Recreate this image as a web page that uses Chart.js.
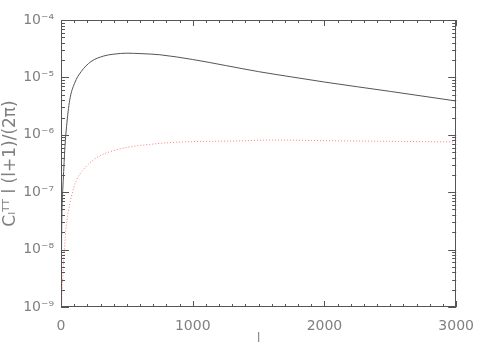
<!DOCTYPE html>
<html>
<head>
<meta charset="utf-8">
<script src="https://cdn.jsdelivr.net/npm/chart.js@4.4.1/dist/chart.umd.min.js"></script>
<style>
html,body{margin:0;padding:0;background:#fff;}
#wrap{width:485px;height:346px;position:relative;}
</style>
</head>
<body>
<div id="wrap"><canvas id="c" width="485" height="346"></canvas></div>
<script>
// multipole l values and C_l l(l+1)/(2pi) values
const solidL   = [2, 5, 10, 17, 30, 42, 66, 103, 153, 227, 325, 400, 500, 600, 750, 1000, 1250, 1500, 1750, 2000, 2500, 3000];
const solidVal = [2e-9, 2e-8, 7e-8, 1.6e-7, 6.2e-7, 1.38e-6, 4.0e-6, 7.9e-6, 1.26e-5, 1.88e-5, 2.36e-5, 2.54e-5, 2.64e-5, 2.6e-5, 2.48e-5, 2.05e-5, 1.61e-5, 1.26e-5, 1.02e-5, 8.3e-6, 5.7e-6, 3.88e-6];
const dottedL   = [2, 5, 12.6, 22, 37, 54, 79, 116, 165, 264, 412, 754, 1000, 1323, 1600, 2000, 2500, 3000];
const dottedVal = [8e-10, 1.2e-9, 3e-9, 7.5e-9, 2.2e-8, 4.3e-8, 8.4e-8, 1.6e-7, 2.4e-7, 3.9e-7, 5.4e-7, 7.1e-7, 7.6e-7, 7.8e-7, 8.1e-7, 7.9e-7, 7.7e-7, 7.5e-7];
const xTickVals = [0, 1000, 2000, 3000];
const yTickExps = [-9, -8, -7, -6, -5, -4];

const SUP = {'-':'\u207B','0':'\u2070','1':'\u00B9','2':'\u00B2','3':'\u00B3','4':'\u2074','5':'\u2075','6':'\u2076','7':'\u2077','8':'\u2078','9':'\u2079'};
function supStr(n){return String(n).split('').map(c=>SUP[c]||c).join('');}

const AXC = '#555555';
const TXC = '#808080';

const innerTicks = {
  id:'innerTicks',
  afterDatasetsDraw(chart){
    const ctx = chart.ctx, a = chart.chartArea;
    const xs = chart.scales.x, ys = chart.scales.y;
    ctx.save();
    ctx.strokeStyle = AXC;
    ctx.lineWidth = 1;
    ctx.strokeRect(Math.round(a.left)+0.5, Math.round(a.top)+0.5, Math.round(a.right-a.left)-1, Math.round(a.bottom-a.top)-1);
    ctx.beginPath();
    for(let v=0; v<=3000; v+=100){
      const px = Math.round(xs.getPixelForValue(v))+0.5;
      const len = (v % 1000 === 0) ? 6 : 3;
      ctx.moveTo(px, a.bottom); ctx.lineTo(px, a.bottom-len);
      ctx.moveTo(px, a.top); ctx.lineTo(px, a.top+len);
    }
    for(let e=-9; e<=-4; e++){
      for(let m=1; m<=9; m++){
        const v = m*Math.pow(10,e);
        if(v > 1.0001e-4) break;
        const py = Math.round(ys.getPixelForValue(v))+0.5;
        const len = (m===1) ? 8 : 4;
        ctx.moveTo(a.left, py); ctx.lineTo(a.left+len, py);
        ctx.moveTo(a.right, py); ctx.lineTo(a.right-len, py);
      }
    }
    ctx.stroke();
    ctx.restore();
  }
};

new Chart(document.getElementById('c'), {
  type:'scatter',
  data:{
    datasets:[
      {
        data: solidL.map((l,i)=>({x:l,y:solidVal[i]})),
        showLine:true, borderColor:'#555555', borderWidth:1, pointRadius:0,
        cubicInterpolationMode:'monotone', fill:false
      },
      {
        data: dottedL.map((l,i)=>({x:l,y:dottedVal[i]})),
        showLine:true, borderColor:'#ff7a7a', borderWidth:1, borderDash:[1,2], pointRadius:0,
        cubicInterpolationMode:'monotone', fill:false
      }
    ]
  },
  options:{
    responsive:false, animation:false, devicePixelRatio:1,
    layout:{padding:{left:0, right:18, top:20, bottom:0}},
    plugins:{legend:{display:false}, tooltip:{enabled:false}},
    scales:{
      x:{
        type:'linear', min:0, max:3000,
        afterBuildTicks(s){ s.ticks = xTickVals.map(v=>({value:v})); },
        afterFit(s){ s.height = 39; },
        grid:{display:false, drawTicks:false},
        border:{display:false},
        ticks:{color:TXC, font:{family:'DejaVu Sans', size:14}, padding:11, maxRotation:0,
               callback:(v)=>String(v)},
        title:{display:true, text:'l', color:TXC, font:{family:'DejaVu Sans', size:12}, padding:{top:0,bottom:0}}
      },
      y:{
        type:'logarithmic', min:1e-9, max:1e-4,
        afterBuildTicks(s){ s.ticks = yTickExps.map(e=>({value:Math.pow(10,e)})); },
        afterFit(s){ s.width = 61; },
        grid:{display:false, drawTicks:false},
        border:{display:false},
        ticks:{color:TXC, font:{family:'DejaVu Sans', size:14}, padding:7,
               callback:(v)=>'10'+supStr(Math.round(Math.log10(v)))},
        title:{display:true, text:'C\u2097\u1D40\u1D40 l (l+1)/(2\u03C0)', color:TXC, font:{family:'DejaVu Sans', size:17}, padding:{top:0,bottom:0}}
      }
    }
  },
  plugins:[innerTicks]
});
</script>
</body>
</html>
